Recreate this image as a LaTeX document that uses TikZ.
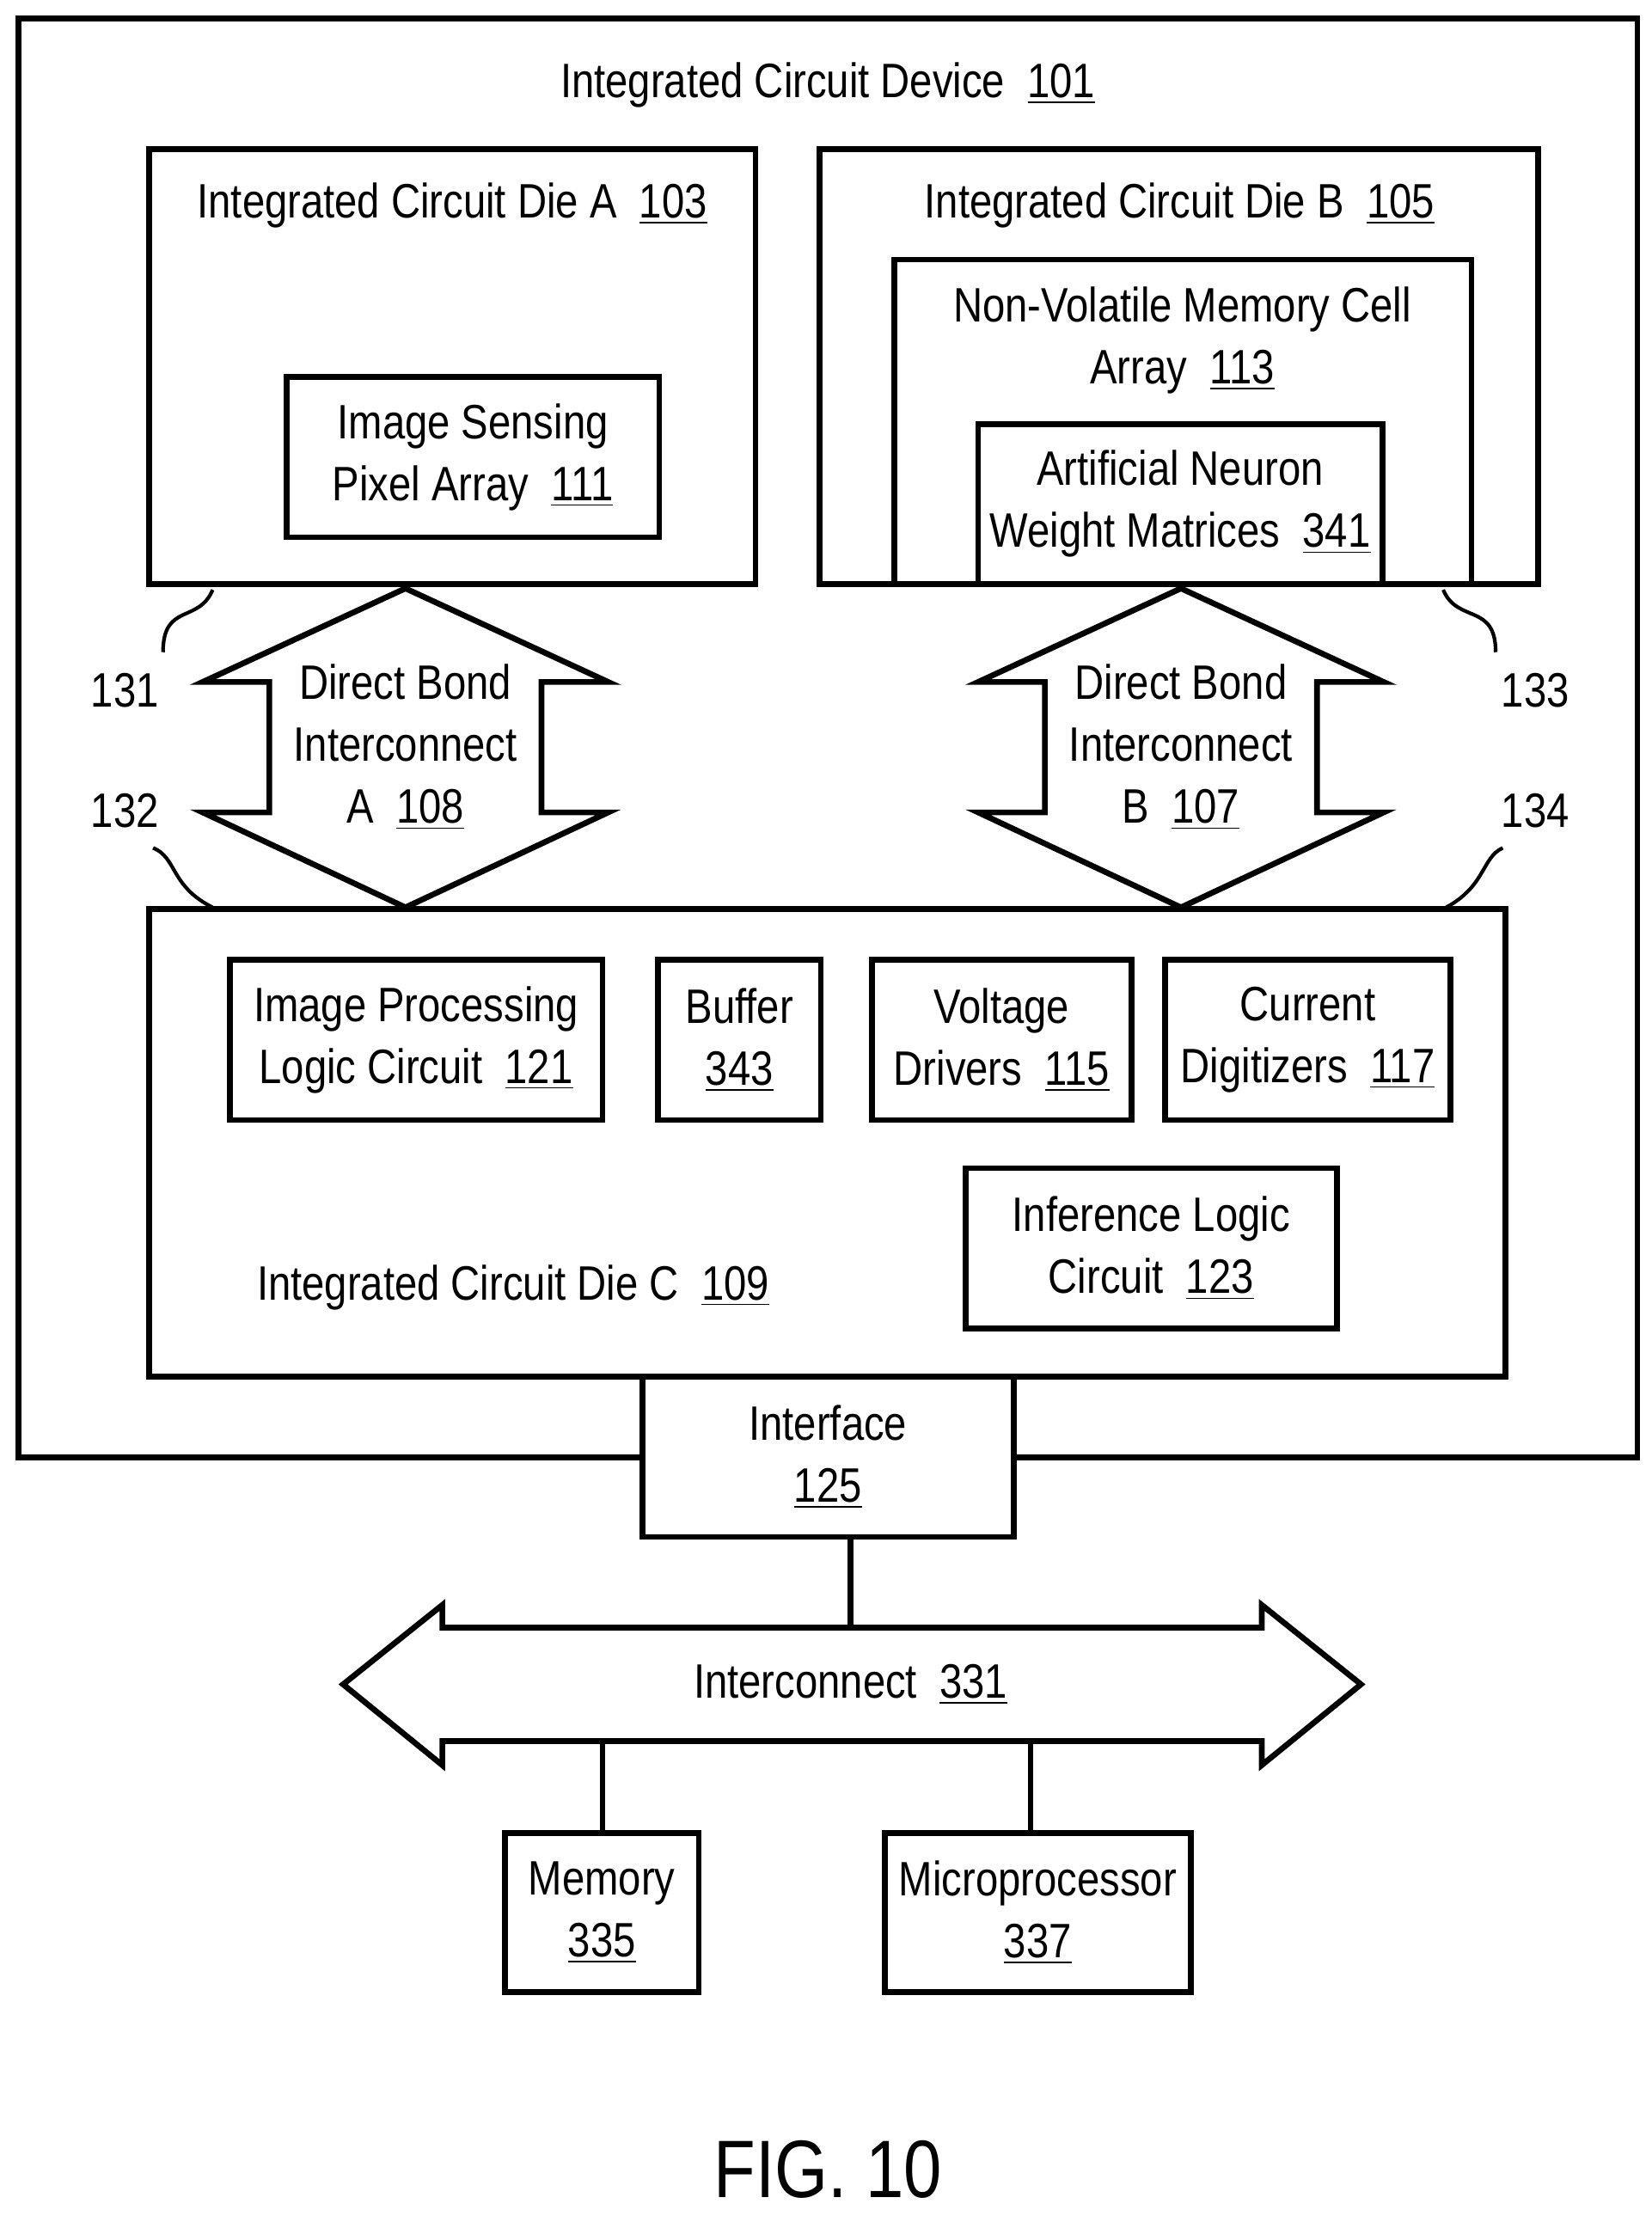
\documentclass[tikz,border=0pt]{standalone}
\usepackage{fontspec}
\setmainfont{Liberation Sans}[FakeStretch=0.84]
\usetikzlibrary{positioning}
\newlength{\px}
\setlength{\px}{0.01649cm}
\newcommand{\refnum}[1]{\underline{#1}}
\tikzset{
  box/.style={draw, line width=1.9pt, align=center, inner sep=0pt},
  lbl/.style={align=center, font=\fontsize{16}{20.5}\selectfont},
  wire/.style={line width=1.9pt},
  leader/.style={line width=1.2pt},
}
\begin{document}
\begin{tikzpicture}[x=0.01649cm, y=-0.01649cm, font=\fontsize{16}{20.5}\selectfont]
\useasboundingbox (0,0) rectangle (1165,1563);
% device and dies
\node[box, minimum width=1142\px, minimum height=1015\px] (device) at (584,520.5) {};
\node[lbl] at (584,60) {Integrated Circuit Device\ \ \refnum{101}};
\node[box, minimum width=428\px, minimum height=307\px] (dieA) at (319,258.5) {};
\node[lbl] at (319,145) {Integrated Circuit Die A\ \ \refnum{103}};
\node[box, minimum width=263\px, minimum height=113\px, lbl] (sensor) at (333.5,322.5) {Image Sensing\\Pixel Array\ \ \refnum{111}};
\node[box, minimum width=507\px, minimum height=307\px] (dieB) at (831.5,258.5) {};
\node[lbl] at (832,145) {Integrated Circuit Die B\ \ \refnum{105}};
\node[box, minimum width=407\px, minimum height=229\px] (nvm) at (834.5,297.5) {};
\node[lbl] at (834,240) {Non-Volatile Memory Cell\\Array\ \ \refnum{113}};
\node[box, minimum width=285\px, minimum height=113\px, lbl] (weights) at (832.5,355.5) {Artificial Neuron\\Weight Matrices\ \ \refnum{341}};
% bond interconnects
\foreach \cx/\name/\txt in {286/bondA/{Direct Bond\\Interconnect\\A\ \ \refnum{108}}, 833/bondB/{Direct Bond\\Interconnect\\B\ \ \refnum{107}}}{
  \draw[wire, fill=white] (\cx,415) -- (\cx+143,481) -- (\cx+96,481) -- (\cx+96,573) -- (\cx+143,573)
    -- (\cx,640) -- (\cx-143,573) -- (\cx-96,573) -- (\cx-96,481) -- (\cx-143,481) -- cycle;
  \node[lbl] (\name) at (\cx,527) {\txt};
}
% die C
\node[box, minimum width=957\px, minimum height=330\px] (dieC) at (583.5,806) {};
\node[lbl] at (362,908) {Integrated Circuit Die C\ \ \refnum{109}};
\node[box, minimum width=263\px, minimum height=113\px, lbl] (imgproc) at (293.5,733.5) {Image Processing\\Logic Circuit\ \ \refnum{121}};
\node[box, minimum width=115\px, minimum height=113\px, lbl] (buffer) at (521.5,733.5) {Buffer\\\refnum{343}};
\node[box, minimum width=183\px, minimum height=113\px, lbl] (drivers) at (706.5,733.5) {Voltage\\Drivers\ \ \refnum{115}};
\node[box, minimum width=201\px, minimum height=113\px, lbl] (digitizers) at (922.5,733.5) {Current\\Digitizers\ \ \refnum{117}};
\node[box, minimum width=262\px, minimum height=113\px, lbl] (inference) at (812,880.5) {Inference Logic\\Circuit\ \ \refnum{123}};
% leaders
\node (n131) at (88,487) {131};
\node (n132) at (88,572) {132};
\node (n133) at (1083,487) {133};
\node (n134) at (1083,572) {134};
\draw[leader] (150,416) .. controls (140,440) and (115,425) .. (115,460);
\draw[leader] (108,598) .. controls (125,605) and (120,625) .. (150,640);
\draw[leader] (1018,416) .. controls (1028,440) and (1055,425) .. (1055,460);
\draw[leader] (1060,598) .. controls (1045,605) and (1048,625) .. (1020,640);
% interface and system
\node[box, fill=white, minimum width=262\px, minimum height=113\px, lbl] (iface) at (584,1027.5) {Interface\\\refnum{125}};
\draw[wire, fill=white] (242,1188) -- (312,1132) -- (312,1148) -- (890,1148) -- (890,1132) -- (960,1188)
  -- (890,1245) -- (890,1228) -- (312,1228) -- (312,1245) -- cycle;
\node[lbl] (bus) at (600,1188) {Interconnect\ \ \refnum{331}};
\coordinate (busTop) at (600,1148);
\coordinate (busMem) at (425,1228);
\coordinate (busCpu) at (727,1228);
\node[box, minimum width=137\px, minimum height=112\px, lbl] (memory) at (424.5,1349) {Memory\\\refnum{335}};
\node[box, minimum width=216\px, minimum height=112\px, lbl] (cpu) at (732,1349) {Microprocessor\\\refnum{337}};
\draw[wire] (iface.south -| busTop) -- (busTop);
\draw[wire] (busMem) -- (memory.north -| busMem);
\draw[wire] (busCpu) -- (cpu.north -| busCpu);
\node[font=\fontsize{27}{32}\selectfont] (fig) at (584,1530) {FIG. 10};
\end{tikzpicture}
\end{document}
